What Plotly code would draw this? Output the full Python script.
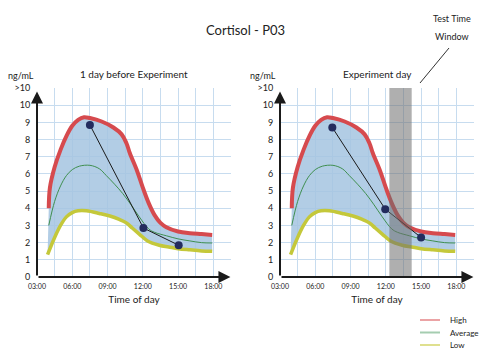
import plotly.graph_objects as go

# hours of day (decimal) and ng/mL values
high_x = [4.0, 4.1, 4.5, 5.0, 5.5, 6.0, 6.5, 7.0, 7.5, 8.5, 9.5, 10.2, 10.6, 10.9, 11.5, 12.0, 12.5, 13.0, 13.5, 14.0, 15.0, 16.0, 17.0, 17.9]
high_y = [4.0, 5.2, 6.4, 7.4, 8.2, 8.8, 9.15, 9.3, 9.25, 9.05, 8.7, 8.3, 7.8, 7.2, 6.2, 5.2, 4.3, 3.6, 3.15, 2.9, 2.65, 2.55, 2.5, 2.45]

avg_x = [4.0, 4.5, 5.0, 5.5, 6.0, 6.6, 7.5, 8.3, 8.9, 9.6, 10.3, 11.0, 11.7, 12.5, 13.0, 14.0, 15.0, 16.0, 17.0, 17.9]
avg_y = [3.0, 4.4, 5.3, 5.9, 6.25, 6.45, 6.5, 6.3, 5.9, 5.4, 4.85, 4.2, 3.5, 2.8, 2.6, 2.4, 2.22, 2.1, 2.0, 1.98]

low_x = [3.9, 4.5, 5.0, 5.5, 6.0, 6.5, 7.2, 8.3, 9.2, 10.0, 10.6, 11.1, 11.7, 12.4, 13.4, 14.2, 15.0, 16.0, 17.0, 17.9]
low_y = [1.3, 2.3, 3.0, 3.5, 3.75, 3.85, 3.85, 3.7, 3.55, 3.35, 3.15, 2.85, 2.5, 2.1, 1.85, 1.75, 1.65, 1.58, 1.52, 1.5]

before_x = [7.5, 12.05, 15.05]
before_y = [8.85, 2.85, 1.85]

exp_x = [7.45, 11.95, 15.0]
exp_y = [8.7, 3.95, 2.3]

test_window = [12.3, 14.2]

x_ticks = [3, 4.5, 6, 7.5, 9, 10.5, 12, 13.5, 15, 16.5, 18, 19.5]
x_labels = ["03:00", "", "06:00", "", "09:00", "", "12:00", "", "15:00", "", "18:00", ""]
y_ticks = list(range(12))
y_labels = [str(v) for v in range(11)] + [">10"]

FONT = "Lato"
RED = "#d64a4e"
GREEN = "#3f8f4f"
YELLOW = "#c4c83a"
NAVY = "#232c5e"
GRID = "#c7dcef"
FILL = "rgba(165,196,224,0.85)"
TXT = "#222222"

# the page has an 8px body margin, so the figure sits at (8, 8)
W, H = 496, 352


def px(x):
    return (x - 8) / W


def py(y):
    return 1 - (y - 8) / H


fig = go.Figure()


def add_panel(fig, n, pts_x, pts_y):
    xa = "x" if n == 1 else "x2"
    ya = "y" if n == 1 else "y2"
    fig.add_trace(go.Scatter(x=low_x, y=low_y, xaxis=xa, yaxis=ya, mode="lines",
                             line=dict(color=YELLOW, width=3.5, shape="spline"),
                             showlegend=False, hoverinfo="skip"))
    fig.add_trace(go.Scatter(x=high_x, y=high_y, xaxis=xa, yaxis=ya, mode="lines",
                             line=dict(color=RED, width=4, shape="spline"),
                             fill="tonexty", fillcolor=FILL,
                             showlegend=False, hoverinfo="skip"))
    fig.add_trace(go.Scatter(x=avg_x, y=avg_y, xaxis=xa, yaxis=ya, mode="lines",
                             line=dict(color=GREEN, width=1, shape="spline"),
                             showlegend=False, hoverinfo="skip"))
    fig.add_trace(go.Scatter(x=pts_x, y=pts_y, xaxis=xa, yaxis=ya, mode="lines+markers",
                             line=dict(color="#1a1a1a", width=1),
                             marker=dict(color=NAVY, size=8),
                             showlegend=False))
    # axis arrows
    fig.add_annotation(x=19.45, y=0, ax=3, ay=0, xref=xa, yref=ya, axref=xa, ayref=ya,
                       text="", showarrow=True, arrowhead=2, arrowsize=1.2,
                       arrowwidth=2, arrowcolor="#1a1a1a")
    fig.add_annotation(x=3, y=10.8, ax=3, ay=0, xref=xa, yref=ya, axref=xa, ayref=ya,
                       text="", showarrow=True, arrowhead=2, arrowsize=1.2,
                       arrowwidth=2, arrowcolor="#1a1a1a")


add_panel(fig, 1, before_x, before_y)
add_panel(fig, 2, exp_x, exp_y)

# test time window on the experiment day
fig.add_shape(type="rect", xref="x2", yref="y2", x0=test_window[0], x1=test_window[1],
              y0=0, y1=11, fillcolor="rgba(110,110,110,0.55)", line_width=0, layer="above")

# legend drawn as small samples
legend_items = [("High", "#eba3a5"), ("Average", "#a5cdb0"), ("Low", "#dfe08f")]
for i, (name, col) in enumerate(legend_items):
    ly = 320 + i * 12.5
    fig.add_shape(type="line", xref="paper", yref="paper", x0=px(420), x1=px(440),
                  y0=py(ly), y1=py(ly), line=dict(color=col, width=2))
    fig.add_annotation(x=px(448), y=py(ly), xref="paper", yref="paper", text=name,
                       showarrow=False, xanchor="left", yanchor="middle",
                       font=dict(size=8, color=TXT))

axis_x = dict(range=[3, 19.5], tickvals=x_ticks, ticktext=x_labels, showgrid=True,
              gridcolor=GRID, gridwidth=1, zeroline=False, showline=False,
              tickfont=dict(size=7, color=TXT), ticks="outside", ticklen=3,
              tickcolor="rgba(0,0,0,0)", automargin=False,
              title=dict(text="Time of day", font=dict(size=10, color=TXT), standoff=6))
axis_y = dict(range=[0, 11], tickvals=y_ticks, ticktext=y_labels, showgrid=True,
              gridcolor=GRID, gridwidth=1, zeroline=False, showline=False,
              tickfont=dict(size=9, color=TXT), ticks="outside", ticklen=4,
              tickcolor="rgba(0,0,0,0)", automargin=False)

fig.update_layout(
    width=W, height=H,
    margin=dict(l=0, r=0, t=0, b=0),
    paper_bgcolor="white", plot_bgcolor="white",
    font=dict(family=FONT, color=TXT),
    showlegend=False,
    xaxis=dict(axis_x, domain=[px(37), px(231)], anchor="y"),
    yaxis=dict(axis_y, domain=[py(277), py(88)], anchor="x"),
    xaxis2=dict(axis_x, domain=[px(280), px(474)], anchor="y2"),
    yaxis2=dict(axis_y, domain=[py(277), py(88)], anchor="x2"),
)

texts = [
    ("Cortisol - P03", 245, 30, 13, "center"),
    ("1 day before Experiment", 134, 74, 10, "center"),
    ("Experiment day", 377, 74, 10, "center"),
    ("ng/mL", 6, 76, 9, "left"),
    ("ng/mL", 248, 76, 9, "left"),
    ("Test Time", 452, 18, 9, "center"),
    ("Window", 452, 36, 9, "center"),
]
for t, tx, ty, sz, anc in texts:
    fig.add_annotation(x=px(tx), y=py(ty), xref="paper", yref="paper", text=t,
                       showarrow=False, xanchor=anc, yanchor="middle",
                       font=dict(size=sz, color=TXT))

# pointer from label to the window
fig.add_shape(type="line", xref="paper", yref="paper",
              x0=px(449), y0=py(48), x1=px(420), y1=py(83),
              line=dict(color="#333", width=1))

fig.write_html("out.html")
